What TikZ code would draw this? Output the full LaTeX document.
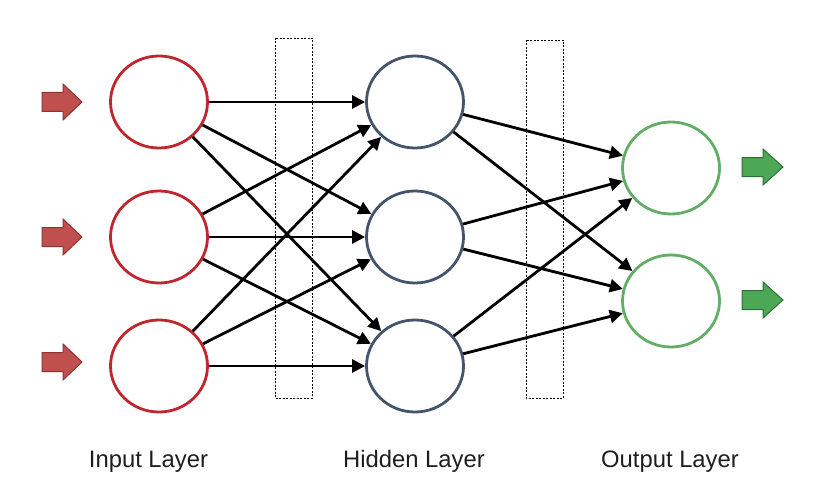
\documentclass[tikz,border=0pt]{standalone}
\usepackage{fontspec}
\setmainfont{Liberation Sans}
\usepackage{xcolor}
\usepackage{tikz}
\usetikzlibrary{arrows.meta}
\usetikzlibrary{shapes.geometric}
\definecolor{inred}{RGB}{192, 38, 46}
\definecolor{hidblue}{RGB}{68, 84, 106}
\definecolor{outgreen}{RGB}{98, 174, 102}
\definecolor{redfill}{RGB}{192, 80, 77}
\definecolor{redline}{RGB}{140, 52, 50}
\definecolor{greenfill}{RGB}{76, 168, 84}
\definecolor{greenline}{RGB}{46, 112, 52}
\definecolor{labelgray}{RGB}{30, 30, 30}

\begin{document}
\begin{tikzpicture}[x = 1pt, y = -1pt,
		neuron/.style = {ellipse, draw, line width = 2.8pt, minimum width = 97pt, minimum height = 92pt, inner sep = 0pt},
		link/.style = {line width = 2.8pt, -{Triangle[length = 13pt, width = 13pt]}},
		layerbox/.style = {draw, line width = 0.6pt, dash pattern = on 2pt off 1.5pt},
		inflow/.style = {draw = redline, fill = redfill, line width = 1pt},
		outflow/.style = {draw = greenline, fill = greenfill, line width = 1pt},
		layername/.style = {anchor = base, text = labelgray, font = \fontsize{23.8}{28}\selectfont}]
			\useasboundingbox (0,0) rectangle (829,500);
			\draw[layerbox] (275,38) rectangle (312,398);
			\draw[layerbox] (526,40) rectangle (563,398);
			\node (i1) at (159,102) [neuron, draw = inred] {};
			\node (i2) at (159,237) [neuron, draw = inred] {};
			\node (i3) at (159,366) [neuron, draw = inred] {};
			\node (h1) at (415,102) [neuron, draw = hidblue] {};
			\node (h2) at (415,237) [neuron, draw = hidblue] {};
			\node (h3) at (415,366) [neuron, draw = hidblue] {};
			\node (o1) at (671,168) [neuron, draw = outgreen] {};
			\node (o2) at (671,301) [neuron, draw = outgreen] {};
			\draw[link] (i1) -- (h1);
			\draw[link] (i1) -- (h2);
			\draw[link] (i1) -- (h3);
			\draw[link] (i2) -- (h1);
			\draw[link] (i2) -- (h2);
			\draw[link] (i2) -- (h3);
			\draw[link] (i3) -- (h1);
			\draw[link] (i3) -- (h2);
			\draw[link] (i3) -- (h3);
			\draw[link] (h1) -- (o1);
			\draw[link] (h1) -- (o2);
			\draw[link] (h2) -- (o1);
			\draw[link] (h2) -- (o2);
			\draw[link] (h3) -- (o1);
			\draw[link] (h3) -- (o2);
			\draw[inflow, shift = {(42,102)}] (0,-9.5) -- (21,-9.5) -- (21,-18) -- (40,0) -- (21,18) -- (21,9.5) -- (0,9.5) -- cycle;
			\draw[inflow, shift = {(42,237)}] (0,-9.5) -- (21,-9.5) -- (21,-18) -- (40,0) -- (21,18) -- (21,9.5) -- (0,9.5) -- cycle;
			\draw[inflow, shift = {(42,362)}] (0,-9.5) -- (21,-9.5) -- (21,-18) -- (40,0) -- (21,18) -- (21,9.5) -- (0,9.5) -- cycle;
			\draw[outflow, shift = {(742,167)}] (0,-9.5) -- (21,-9.5) -- (21,-18) -- (41,0) -- (21,18) -- (21,9.5) -- (0,9.5) -- cycle;
			\draw[outflow, shift = {(742,300)}] (0,-9.5) -- (21,-9.5) -- (21,-18) -- (41,0) -- (21,18) -- (21,9.5) -- (0,9.5) -- cycle;
			\node (inname) at (148.5,467) [layername] {Input Layer};
			\node (hidname) at (414,467) [layername] {Hidden Layer};
			\node (outname) at (670,467) [layername] {Output Layer};
			\end{tikzpicture}
\end{document}
